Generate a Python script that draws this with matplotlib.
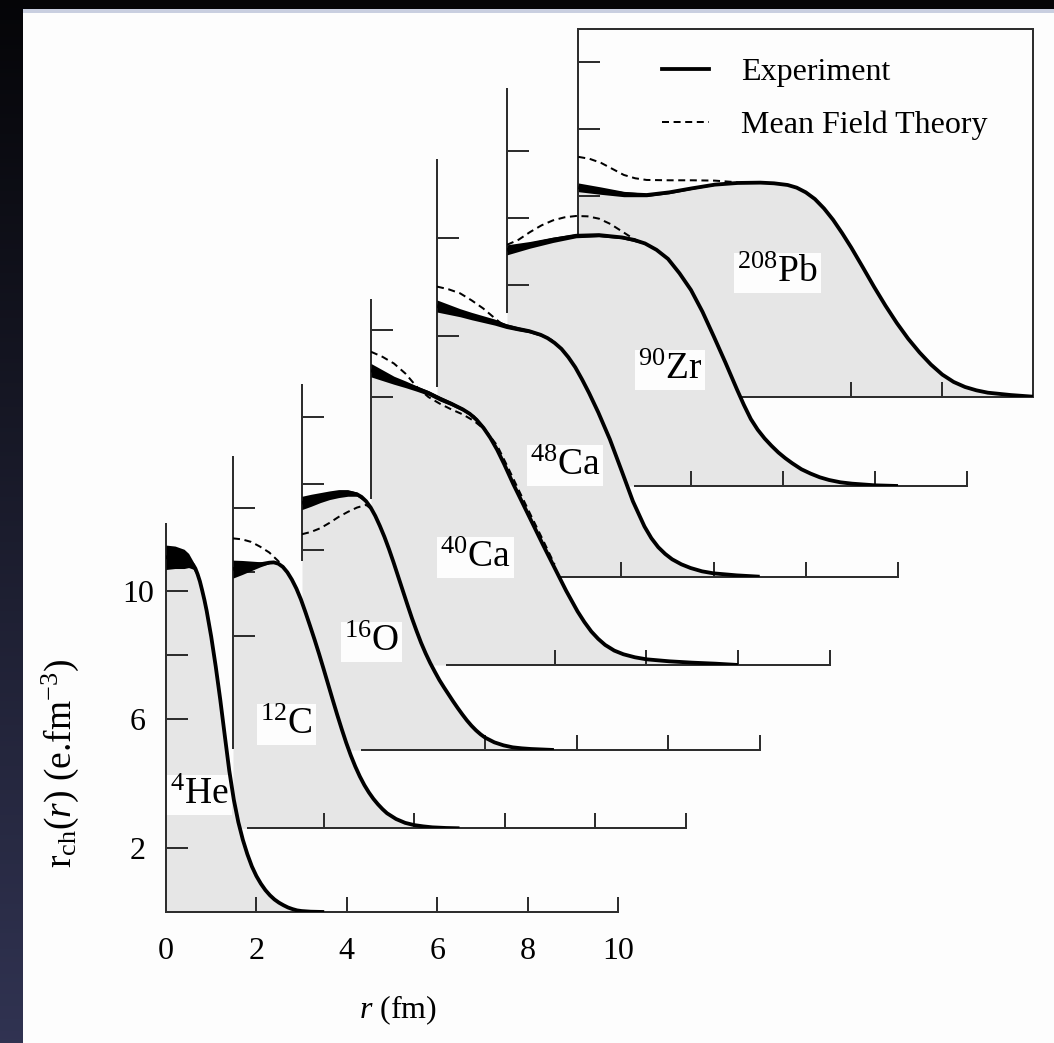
import numpy as np
import matplotlib
matplotlib.use("Agg")
import matplotlib.pyplot as plt
from matplotlib.lines import Line2D
from matplotlib.patches import Rectangle

plt.rcParams['font.family'] = ['Liberation Serif', 'DejaVu Serif']
plt.rcParams['mathtext.fontset'] = 'custom'
plt.rcParams['mathtext.rm'] = 'Liberation Serif'
plt.rcParams['mathtext.it'] = 'Liberation Serif:italic'
plt.rcParams['mathtext.bf'] = 'Liberation Serif:bold'

# ---------------- charge densities: r in fm, rho in units of the left axis ----------------
# 4He
he_r   = [0, 0.2, 0.4, 0.5, 0.6, 0.65, 0.7, 0.75, 0.8, 0.85, 0.9, 1.0, 1.1, 1.2, 1.3, 1.4,
          1.5, 1.6, 1.7, 1.8, 1.9, 2.0, 2.1, 2.2, 2.3, 2.4, 2.5, 2.6, 2.7, 2.8, 2.9, 3.0,
          3.2, 3.5]
he_rho = [11.05, 11.05, 11.0, 10.95, 10.82, 10.7, 10.52, 10.3, 10.02, 9.72, 9.38, 8.58,
          7.65, 6.62, 5.5, 4.4, 3.5, 2.8, 2.25, 1.8, 1.42, 1.12, 0.88, 0.68, 0.52, 0.39,
          0.29, 0.21, 0.14, 0.09, 0.05, 0.03, 0.01, 0.0]
he_band_r  = [0, 0.2, 0.4, 0.5, 0.6, 0.7]
he_band_lo = [10.67, 10.70, 10.70, 10.73, 10.68, 10.45]
he_band_hi = [11.43, 11.40, 11.30, 11.17, 10.92, 10.55]

# 12C
c_r   = [0, 0.2, 0.4, 0.6, 0.8, 0.9, 1.0, 1.1, 1.2, 1.3, 1.4, 1.5, 1.6, 1.7, 1.8, 1.9,
         2.0, 2.1, 2.2, 2.3, 2.4, 2.5, 2.6, 2.7, 2.8, 2.9, 3.0, 3.1, 3.2, 3.3, 3.4, 3.6,
         3.8, 4.0, 4.2, 4.4, 4.7, 5.0]
c_rho = [8.1, 8.15, 8.2, 8.25, 8.3, 8.31, 8.27, 8.17, 8.0, 7.77, 7.49, 7.15, 6.75, 6.33,
         5.9, 5.45, 4.98, 4.5, 4.02, 3.55, 3.1, 2.67, 2.28, 1.93, 1.62, 1.35, 1.12, 0.92,
         0.75, 0.6, 0.47, 0.29, 0.17, 0.1, 0.06, 0.03, 0.01, 0.0]
c_band_r  = [0, 0.2, 0.4, 0.6, 0.8]
c_band_lo = [7.82, 7.93, 8.05, 8.17, 8.27]
c_band_hi = [8.38, 8.37, 8.35, 8.33, 8.33]
c_th_r    = [0, 0.2, 0.4, 0.6, 0.8, 1.0, 1.1, 1.2]
c_th_rho  = [9.06, 9.03, 8.95, 8.8, 8.62, 8.35, 8.18, 7.98]

# 16O
o_r   = [0, 0.2, 0.4, 0.6, 0.8, 1.0, 1.1, 1.2, 1.3, 1.4, 1.5, 1.6, 1.7, 1.8, 1.9, 2.0,
         2.1, 2.2, 2.3, 2.4, 2.5, 2.6, 2.7, 2.8, 2.9, 3.0, 3.1, 3.2, 3.3, 3.4, 3.5, 3.6,
         3.7, 3.8, 3.9, 4.0, 4.2, 4.4, 4.6, 4.8, 5.0, 5.5]
o_rho = [7.42, 7.5, 7.58, 7.65, 7.7, 7.72, 7.71, 7.68, 7.6, 7.47, 7.28, 7.03, 6.73, 6.4,
         6.03, 5.63, 5.21, 4.79, 4.37, 3.96, 3.58, 3.22, 2.9, 2.61, 2.35, 2.1, 1.88, 1.67,
         1.46, 1.26, 1.07, 0.89, 0.73, 0.59, 0.47, 0.37, 0.23, 0.14, 0.08, 0.05, 0.03, 0.0]
o_band_r  = [0, 0.2, 0.4, 0.6, 0.8, 1.0, 1.2, 1.4]
o_band_lo = [7.22, 7.32, 7.43, 7.52, 7.58, 7.62, 7.62, 7.43]
o_band_hi = [7.62, 7.68, 7.73, 7.78, 7.82, 7.82, 7.74, 7.47]
o_th_r    = [0, 0.2, 0.4, 0.6, 0.8, 1.0, 1.2, 1.4, 1.5]
o_th_rho  = [6.48, 6.55, 6.66, 6.82, 7.0, 7.15, 7.28, 7.36, 7.25]

# 40Ca
ca40_r   = [0, 0.25, 0.5, 0.75, 1.0, 1.25, 1.5, 1.75, 2.0, 2.15, 2.3, 2.45, 2.6, 2.75,
            2.9, 3.0, 3.1, 3.25, 3.5, 3.75, 4.0, 4.25, 4.5, 4.65, 4.8, 4.95, 5.1, 5.3,
            5.5, 5.75, 6.0, 6.5, 7.0, 7.5, 8.0]
ca40_rho = [8.8, 8.65, 8.5, 8.38, 8.25, 8.12, 7.95, 7.8, 7.63, 7.5, 7.32, 7.08, 6.78,
            6.42, 6.0, 5.7, 5.4, 4.98, 4.28, 3.58, 2.9, 2.22, 1.6, 1.28, 1.0, 0.78, 0.6,
            0.43, 0.32, 0.23, 0.17, 0.11, 0.07, 0.04, 0.0]
ca40_band_r  = [0, 0.25, 0.5, 0.75, 1.0, 1.25, 1.5, 1.75, 2.0, 2.25, 2.5]
ca40_band_lo = [8.6, 8.49, 8.38, 8.28, 8.17, 8.05, 7.88, 7.74, 7.58, 7.38, 7.0]
ca40_band_hi = [9.0, 8.81, 8.62, 8.48, 8.33, 8.19, 8.02, 7.86, 7.68, 7.46, 7.06]
ca40_th_r    = [0, 0.25, 0.5, 0.75, 1.0, 1.25, 1.5, 1.75, 2.0, 2.25, 2.5, 2.75, 3.0,
                3.25, 3.5, 3.75, 4.0]
ca40_th_rho  = [9.35, 9.2, 9.0, 8.7, 8.3, 8.0, 7.8, 7.63, 7.48, 7.28, 7.0, 6.55, 5.85,
                5.13, 4.42, 3.72, 3.0]

# 48Ca
ca48_r   = [0, 0.25, 0.5, 0.75, 1.0, 1.25, 1.5, 1.75, 2.0, 2.25, 2.4, 2.55, 2.7, 2.85,
            3.0, 3.15, 3.3, 3.5, 3.75, 4.0, 4.25, 4.5, 4.65, 4.8, 4.95, 5.1, 5.3, 5.5,
            5.75, 6.0, 6.5, 7.0]
ca48_rho = [8.08, 7.98, 7.88, 7.78, 7.69, 7.6, 7.48, 7.4, 7.33, 7.22, 7.12, 6.98, 6.8,
            6.55, 6.25, 5.88, 5.48, 4.9, 4.1, 3.18, 2.25, 1.5, 1.15, 0.88, 0.68, 0.52,
            0.37, 0.26, 0.16, 0.1, 0.04, 0.0]
ca48_band_r  = [0, 0.25, 0.5, 0.75, 1.0, 1.25, 1.5, 1.75, 2.0, 2.25, 2.5]
ca48_band_lo = [7.9, 7.83, 7.76, 7.67, 7.59, 7.51, 7.41, 7.34, 7.28, 7.18, 7.04]
ca48_band_hi = [8.26, 8.13, 8.0, 7.89, 7.79, 7.69, 7.55, 7.46, 7.38, 7.26, 7.1]
ca48_th_r    = [0, 0.25, 0.5, 0.75, 1.0, 1.25, 1.4]
ca48_th_rho  = [8.66, 8.58, 8.46, 8.25, 8.01, 7.72, 7.55]

# 90Zr
zr_r   = [0, 0.5, 1.0, 1.5, 2.0, 2.5, 2.75, 3.0, 3.25, 3.5, 3.75, 4.0, 4.25, 4.5, 4.75,
          5.0, 5.15, 5.3, 5.45, 5.6, 5.75, 5.9, 6.05, 6.2, 6.4, 6.6, 6.8, 7.0, 7.25, 7.5,
          8.0, 8.5]
zr_rho = [7.05, 7.2, 7.35, 7.47, 7.49, 7.42, 7.35, 7.24, 7.05, 6.78, 6.35, 5.85, 5.2,
          4.45, 3.68, 2.88, 2.42, 2.0, 1.68, 1.42, 1.2, 1.0, 0.83, 0.68, 0.5, 0.37, 0.26,
          0.18, 0.11, 0.07, 0.02, 0.0]
zr_band_r  = [0, 0.5, 1.0, 1.5, 2.0, 2.5, 3.0]
zr_band_lo = [6.9, 7.1, 7.27, 7.41, 7.44, 7.38, 7.22]
zr_band_hi = [7.2, 7.3, 7.43, 7.53, 7.54, 7.46, 7.28]
zr_th_r    = [0, 0.25, 0.5, 0.75, 1.0, 1.25, 1.5, 1.75, 2.0, 2.25, 2.5, 2.75, 3.0]
zr_th_rho  = [7.2, 7.35, 7.58, 7.78, 7.93, 8.02, 8.06, 8.05, 7.98, 7.82, 7.6, 7.38, 7.22]

# 208Pb
pb_r   = [0, 0.5, 1.0, 1.5, 2.0, 2.5, 3.0, 3.5, 4.0, 4.3, 4.6, 4.8, 5.0, 5.2, 5.4, 5.6,
          5.8, 6.0, 6.25, 6.5, 6.75, 7.0, 7.25, 7.5, 7.75, 8.0, 8.25, 8.5, 8.75, 9.0,
          9.5, 10.0]
pb_rho = [6.25, 6.15, 6.05, 6.02, 6.1, 6.22, 6.33, 6.38, 6.39, 6.37, 6.32, 6.24, 6.1,
          5.9, 5.62, 5.28, 4.88, 4.45, 3.87, 3.28, 2.72, 2.2, 1.73, 1.32, 0.96, 0.66,
          0.44, 0.29, 0.19, 0.12, 0.05, 0.0]
pb_band_r  = [0, 0.5, 1.0, 1.5, 2.0, 2.5, 3.0, 3.5]
pb_band_lo = [6.12, 6.04, 5.97, 5.97, 6.06, 6.19, 6.31, 6.37]
pb_band_hi = [6.38, 6.26, 6.13, 6.07, 6.14, 6.25, 6.35, 6.39]
pb_th_r    = [0, 0.25, 0.5, 0.75, 1.0, 1.25, 1.5, 2.0, 2.5, 3.0, 3.5]
pb_th_rho  = [7.16, 7.1, 6.98, 6.8, 6.62, 6.52, 6.47, 6.46, 6.46, 6.45, 6.4]

# axis tick values
he_xticks = [0, 2, 4, 6, 8, 10]
he_xticklabels = ['0', '2', '4', '6', '8', '10']
he_yticks = [2, 4, 6, 8, 10]
he_yticklabels = ['2', '', '6', '', '10']

nucleus_labels = {'He': r'$^{4}$He', 'C': r'$^{12}$C', 'O': r'$^{16}$O',
                  'Ca40': r'$^{40}$Ca', 'Ca48': r'$^{48}$Ca', 'Zr': r'$^{90}$Zr',
                  'Pb': r'$^{208}$Pb'}

# ---------------- figure layout ----------------
W, H, DPI = 1054, 1043, 100
PX = 72.0 / DPI          # points per pixel
GRAY = '#e6e6e6'
AXC = '#2e2e2e'

fig = plt.figure(figsize=(W / DPI, H / DPI), dpi=DPI)
fig.patch.set_facecolor('white')

# dark slide backdrop around the white plate
bg = fig.add_axes([0, 0, 1, 1], zorder=-5)
bg.set_xlim(0, W)
bg.set_ylim(H, 0)
bg.axis('off')
t = np.linspace(0, 1, 256)[:, None, None]
c_top = np.array([0.02, 0.02, 0.03])
c_bot = np.array([0.19, 0.20, 0.32])
bg.imshow(c_top + (c_bot - c_top) * t, extent=(0, W, H, 0), aspect='auto')
bg.add_patch(Rectangle((23, 9), W - 23, 4, fc='#c9cfe0', ec='none'))
bg.add_patch(Rectangle((23, 13), W - 23, H - 13, fc='#fdfdfd', ec='none'))

# panel geometry: origin pixel (x0, y0), px per fm, px per unit, top of y range
geom = {
    'He':   (166.0, 912.0, 45.2, 32.1, 12.1),
    'C':    (233.0, 828.3, 45.3, 32.0, 11.6),
    'O':    (302.0, 750.0, 45.8, 33.3, 10.95),
    'Ca40': (371.0, 665.0, 45.9, 33.5, 10.9),
    'Ca48': (437.0, 576.7, 46.1, 33.5, 12.45),
    'Zr':   (507.0, 486.0, 46.0, 33.5, 11.85),
    'Pb':   (578.3, 396.7, 45.5, 33.5, 10.97),
}
# visible portions of each panel's axes lines (lower ends)
ybound_lo = {'He': 0, 'C': 2.5, 'O': 5.7, 'Ca40': 5.0, 'Ca48': 5.7, 'Zr': 5.2, 'Pb': 0}
xbound_lo = {'He': 0, 'C': 0.33, 'O': 1.3, 'Ca40': 1.65, 'Ca48': 2.67, 'Zr': 2.78, 'Pb': 0}
yticks = {'He': he_yticks, 'C': [6, 8, 10], 'O': [6, 8, 10], 'Ca40': [8, 10],
          'Ca48': [7.2, 10.1], 'Zr': [6, 8, 10], 'Pb': [6, 8, 10]}
xticks = {'He': he_xticks, 'C': [2, 4, 6, 8, 10], 'O': [4, 6, 8, 10],
          'Ca40': [4, 6, 8, 10], 'Ca48': [4, 6, 8, 10], 'Zr': [4, 6, 8, 10], 'Pb': [6, 8]}
label_pos = {'He': (0.735, 3.64), 'C': (1.18, 3.24), 'O': (1.52, 3.25),
             'Ca40': (2.28, 3.21), 'Ca48': (2.78, 3.32), 'Zr': (3.54, 3.46),
             'Pb': (4.37, 3.69)}

DASH = (0, (3.5, 2.3))
LW_EXP = 3.8 * PX
LW_TH = 2.0 * PX
FS_LABEL = 27
FS_TICK = 23


def make_panel(key):
    x0, y0, sx, sy, top = geom[key]
    ax = fig.add_axes([x0 / W, 1 - y0 / H, 10 * sx / W, top * sy / H])
    ax.set_xlim(0, 10)
    ax.set_ylim(0, top)
    ax.patch.set_visible(False)
    box = key == 'Pb'
    for side in ('top', 'right'):
        ax.spines[side].set_visible(box)
    for sp in ax.spines.values():
        sp.set_color(AXC)
        sp.set_linewidth(2.0 * PX)
    if not box:
        ax.spines['left'].set_bounds(ybound_lo[key], top)
        ax.spines['bottom'].set_bounds(xbound_lo[key], 10)
    ax.set_xticks(xticks[key])
    ax.set_yticks(yticks[key])
    ax.tick_params(axis='y', direction='in', length=22 * PX, width=2.0 * PX,
                   color=AXC, labelleft=False)
    ax.tick_params(axis='x', direction='in', length=15 * PX, width=2.0 * PX,
                   color=AXC, labelbottom=False)
    lx, ly = label_pos[key]
    ax.text(lx, ly, nucleus_labels[key], ha='center', va='center', fontsize=FS_LABEL,
            zorder=2.9, bbox=dict(boxstyle='square,pad=0.08', fc='#fdfdfd', ec='none'))
    return ax


def draw_density(ax, r, rho, band_r, band_lo, band_hi, th_r=None, th_rho=None):
    ax.fill_between(r, 0, rho, color=GRAY, lw=0, zorder=1)
    if th_r is not None:
        ax.plot(th_r, th_rho, color='black', lw=LW_TH, ls=DASH, zorder=2.8)
    ax.fill_between(band_r, band_lo, band_hi, color='black', lw=0, zorder=3)
    ax.plot(r, rho, color='black', lw=LW_EXP, zorder=3.1,
            solid_capstyle='butt', solid_joinstyle='round')


# back to front
ax_pb = make_panel('Pb')
draw_density(ax_pb, pb_r, pb_rho, pb_band_r, pb_band_lo, pb_band_hi, pb_th_r, pb_th_rho)
ax_zr = make_panel('Zr')
draw_density(ax_zr, zr_r, zr_rho, zr_band_r, zr_band_lo, zr_band_hi, zr_th_r, zr_th_rho)
ax_ca48 = make_panel('Ca48')
draw_density(ax_ca48, ca48_r, ca48_rho, ca48_band_r, ca48_band_lo, ca48_band_hi,
             ca48_th_r, ca48_th_rho)
ax_ca40 = make_panel('Ca40')
draw_density(ax_ca40, ca40_r, ca40_rho, ca40_band_r, ca40_band_lo, ca40_band_hi,
             ca40_th_r, ca40_th_rho)
ax_o = make_panel('O')
draw_density(ax_o, o_r, o_rho, o_band_r, o_band_lo, o_band_hi, o_th_r, o_th_rho)
ax_c = make_panel('C')
draw_density(ax_c, c_r, c_rho, c_band_r, c_band_lo, c_band_hi, c_th_r, c_th_rho)
ax_he = make_panel('He')
draw_density(ax_he, he_r, he_rho, he_band_r, he_band_lo, he_band_hi)

# tick labels and axis titles on the front panel
ax_he.set_xticklabels(he_xticklabels, fontsize=FS_TICK)
ax_he.tick_params(axis='x', labelbottom=True, pad=25 * PX)
ax_he.set_yticklabels(he_yticklabels, fontsize=FS_TICK)
ax_he.tick_params(axis='y', labelleft=True, pad=28 * PX)
for lbl in ax_he.get_yticklabels():
    lbl.set_horizontalalignment('center')

x0, y0, sx, sy, top = geom['He']
ax_he.set_xlabel(r'$r$ (fm)', fontsize=23, va='center')
ax_he.xaxis.set_label_coords((398 - x0) / (10 * sx), (y0 - 1010) / (top * sy))
ax_he.set_ylabel(r'$\mathrm{r}_{\mathrm{ch}}(r)$ (e.fm$^{-3}$)', fontsize=27,
                 va='center', ha='center')
ax_he.yaxis.set_label_coords((60 - x0) / (10 * sx), (y0 - 763) / (top * sy))

# legend inside the 208Pb frame
h_exp = Line2D([], [], color='black', lw=LW_EXP)
h_th = Line2D([], [], color='black', lw=LW_TH, ls=DASH)
ax_pb.legend([h_exp, h_th], ['Experiment', 'Mean Field Theory'], loc='upper left',
             bbox_to_anchor=(0.183, 0.922), frameon=False, fontsize=23,
             handlelength=1.5, handletextpad=0.98, labelspacing=0.74,
             borderpad=0, borderaxespad=0)

fig.savefig('out.png', dpi=DPI)
